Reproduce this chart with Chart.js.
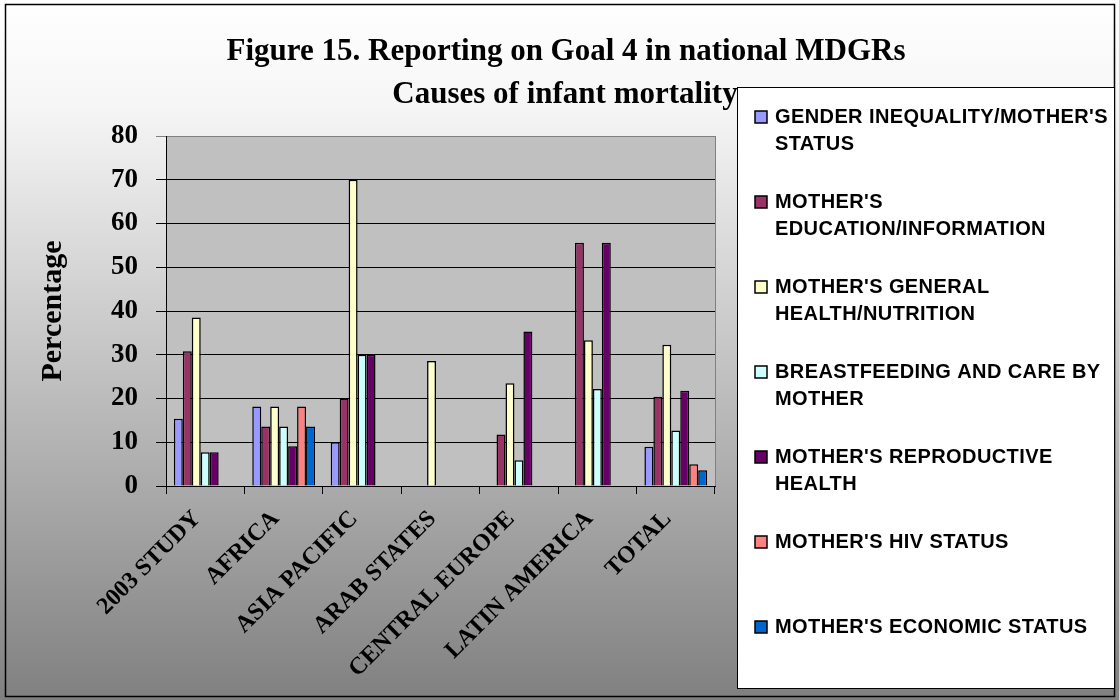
<!DOCTYPE html>
<html>
<head>
<meta charset="utf-8">
<script src="https://cdn.jsdelivr.net/npm/chart.js@4.4.1/dist/chart.umd.min.js"></script>
<style>
  html, body { margin: 0; padding: 0; background: #fff; }
  #wrap { width: 1119px; height: 700px; }
</style>
</head>
<body>
<div id="wrap"><canvas id="chart" width="1119" height="700"></canvas></div>
<script>
// chart data
const categories = ['2003 STUDY', 'AFRICA', 'ASIA PACIFIC', 'ARAB STATES', 'CENTRAL EUROPE', 'LATIN AMERICA', 'TOTAL'];

const seriesNames = [
  "GENDER INEQUALITY/MOTHER'S STATUS",
  "MOTHER'S EDUCATION/INFORMATION",
  "MOTHER'S GENERAL HEALTH/NUTRITION",
  'BREASTFEEDING AND CARE BY MOTHER',
  "MOTHER'S REPRODUCTIVE HEALTH",
  "MOTHER'S HIV STATUS",
  "MOTHER'S ECONOMIC STATUS"
];
const seriesColors = ['#9999FF', '#993366', '#FFFFCC', '#CCFFFF', '#660066', '#FF8080', '#0066CC'];

const genderStatus  = [15.4, 18.2, 10.0, null, null, null, 9.0];
const education     = [30.8, 13.6, 20.0, null, 11.8, 55.6, 20.4];
const generalHealth = [38.5, 18.2, 70.0, 28.6, 23.5, 33.3, 32.3];
const breastfeeding = [7.7, 13.6, 30.0, null, 5.9, 22.2, 12.7];
const reproductive  = [7.7, 9.1, 30.0, null, 35.3, 55.6, 21.8];
const hivStatus     = [null, 18.2, null, null, null, null, 5.0];
const economic      = [null, 13.6, null, null, null, null, 3.6];

const yMin = 0;
const yMax = 80;
const yStep = 10;

const titleLines = ['Figure 15. Reporting on Goal 4 in national MDGRs', 'Causes of infant mortality'];
const yTitle = 'Percentage';

const seriesValues = [genderStatus, education, generalHealth, breastfeeding, reproductive, hivStatus, economic];

const SERIF = "'Liberation Serif', 'Times New Roman', serif";
const SANS = "'Liberation Sans', Arial, sans-serif";

// background, frame and plot area fill
const backdrop = {
  id: 'backdrop',
  beforeDraw(chart) {
    const { ctx, width, height, chartArea: a } = chart;
    ctx.save();
    const g = ctx.createLinearGradient(0, 0, 0, height);
    g.addColorStop(0, '#ffffff');
    g.addColorStop(0.15, '#f6f6f6');
    g.addColorStop(1, '#808080');
    ctx.fillStyle = g;
    ctx.fillRect(0, 0, width, height);
    ctx.strokeStyle = '#000';
    ctx.lineWidth = 1.5;
    ctx.strokeRect(5.5, 4.5, width - 10, height - 8);

    ctx.fillStyle = '#C0C0C0';
    ctx.fillRect(a.left, a.top, a.right - a.left, a.bottom - a.top);
    ctx.strokeStyle = '#808080';
    ctx.lineWidth = 1;
    ctx.strokeRect(a.left + 0.5, a.top + 0.5, a.right - a.left, a.bottom - a.top);
    ctx.restore();
  }
};

function wrapText(ctx, text, maxWidth) {
  const words = text.split(' ');
  const lines = [];
  let line = '';
  words.forEach(w => {
    const test = line ? line + ' ' + w : w;
    if (line && ctx.measureText(test).width > maxWidth) {
      lines.push(line);
      line = w;
    } else {
      line = test;
    }
  });
  if (line) lines.push(line);
  return lines;
}

// title and boxed legend on the right
const decorations = {
  id: 'decorations',
  afterDraw(chart) {
    const { ctx } = chart;
    ctx.save();
    ctx.fillStyle = '#000';
    ctx.textAlign = 'center';
    ctx.textBaseline = 'middle';
    ctx.font = 'bold 31px ' + SERIF;
    ctx.fillText(titleLines[0], 566, 52);
    ctx.fillText(titleLines[1], 565, 95);

    // legend box
    const box = { x: 737.5, y: 87.5, w: 377, h: 601 };
    ctx.fillStyle = '#fff';
    ctx.fillRect(box.x, box.y, box.w, box.h);
    ctx.strokeStyle = '#000';
    ctx.lineWidth = 1;
    ctx.strokeRect(box.x, box.y, box.w, box.h);

    ctx.font = 'bold 20px ' + SANS;
    ctx.textAlign = 'left';
    if ('letterSpacing' in ctx) ctx.letterSpacing = '0.4px';
    chart.data.datasets.forEach((ds, i) => {
      const y0 = 117 + i * 85;
      ctx.fillStyle = ds.backgroundColor;
      ctx.fillRect(755, y0 - 6, 12, 12);
      ctx.strokeStyle = '#000';
      ctx.lineWidth = 1.5;
      ctx.strokeRect(755, y0 - 6, 12, 12);
      ctx.fillStyle = '#000';
      wrapText(ctx, ds.label, 338).forEach((ln, k) => {
        ctx.fillText(ln, 775, y0 + k * 27);
      });
    });
    ctx.restore();
  }
};

const datasets = seriesNames.map((name, i) => ({
  label: name,
  data: seriesValues[i],
  backgroundColor: seriesColors[i],
  borderColor: '#000',
  borderWidth: 1.5,
  categoryPercentage: 0.8,
  barPercentage: 1.0
}));

new Chart(document.getElementById('chart'), {
  type: 'bar',
  data: { labels: categories, datasets: datasets },
  options: {
    responsive: false,
    animation: false,
    layout: { padding: { left: 0, top: 136, right: 404, bottom: 0 } },
    plugins: {
      legend: { display: false },
      title: { display: false },
      tooltip: { enabled: false }
    },
    scales: {
      x: {
        grid: { display: true, drawOnChartArea: false, drawTicks: true, tickLength: 8, color: '#000', offset: true },
        border: { display: true, color: '#000', width: 1 },
        ticks: {
          color: '#000',
          font: { family: SERIF, size: 24, weight: 'bold' },
          minRotation: 45,
          maxRotation: 45,
          autoSkip: false,
          padding: 11,
          labelOffset: -8
        },
        afterFit: (scale) => { scale.height = 214; }
      },
      y: {
        min: yMin,
        max: yMax,
        grid: {
          color: (c) => (c.tick && c.tick.value === yMax ? '#808080' : '#000'),
          tickLength: 10
        },
        border: { display: true, color: '#000', width: 1 },
        ticks: {
          stepSize: yStep,
          color: '#000',
          font: { family: SERIF, size: 27, weight: 'bold' },
          padding: 18
        },
        title: {
          display: true,
          text: yTitle,
          color: '#000',
          font: { family: SERIF, size: 30, weight: 'bold' },
          padding: { top: 35, bottom: 0 }
        },
        afterFit: (scale) => { scale.width = 166; }
      }
    }
  },
  plugins: [backdrop, decorations]
});
</script>
</body>
</html>
